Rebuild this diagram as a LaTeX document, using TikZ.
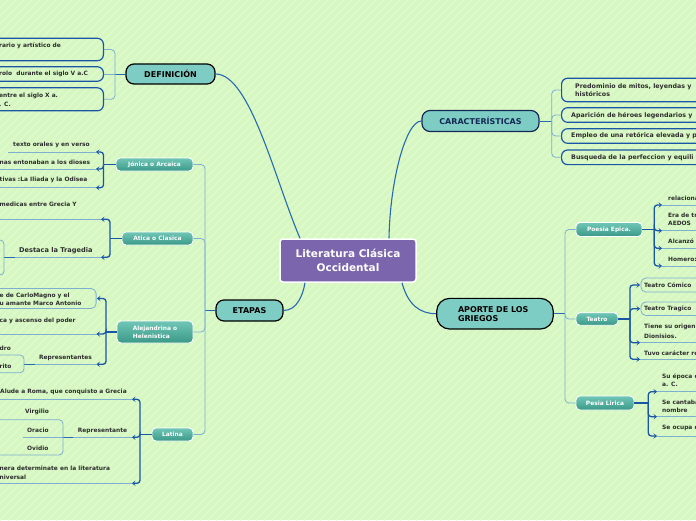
\documentclass[tikz,border=0pt]{standalone}
\usepackage{fontspec}
\setmainfont{DejaVu Sans}
\usetikzlibrary{arrows.meta}
\definecolor{bg}{RGB}{214,247,194}
\definecolor{stripe}{RGB}{221,250,203}
\definecolor{lb}{RGB}{125,175,208}
\definecolor{db}{RGB}{26,86,166}
\definecolor{curve}{RGB}{40,105,175}
\definecolor{topicfill}{RGB}{126,205,196}
\definecolor{purp}{RGB}{123,101,172}
\definecolor{stagetop}{RGB}{112,198,182}
\definecolor{stagebot}{RGB}{58,153,136}
\definecolor{tx}{RGB}{45,45,45}
\definecolor{navy}{RGB}{22,40,85}
\tikzset{
  main/.style={draw=curve, line width=1.1pt},
  mid/.style={draw=curve, line width=1pt},
  lbr/.style={draw=lb, line width=0.8pt, rounded corners=4pt},
  dbr/.style={draw=db, line width=1.3pt, rounded corners=3pt},
  arr/.style={-{Stealth[length=3.6pt,width=5.5pt,inset=1.8pt]}},
  ul/.style={draw=lb, line width=0.8pt},
  txt/.style={font=\fontsize{5.9}{8.3}\selectfont\bfseries, text=tx, inner sep=0pt, align=left, anchor=west},
  ctxt/.style={txt, font=\fontsize{6.3}{8.3}\selectfont\bfseries},
  topic/.style={draw=black, line width=1.2pt, fill=topicfill, rounded corners=8pt, font=\fontsize{8}{9}\selectfont\bfseries, text=black, inner sep=0pt},
  stage/.style={draw=white, line width=0.9pt, rounded corners=4pt, top color=stagetop, bottom color=stagebot, text=white, font=\fontsize{5.9}{8.4}\selectfont\bfseries, inner sep=0pt, align=left},
  dbox/.style={draw=db, line width=1.2pt, rounded corners=6pt, inner sep=0pt},
  lbox/.style={draw=lb, line width=0.8pt, rounded corners=5pt, inner sep=0pt},
  central/.style={draw=white, line width=1.5pt, fill=purp, rounded corners=3pt, text=white, font=\fontsize{10.5}{14}\selectfont\bfseries, align=center, inner sep=0pt}
}
\begin{document}
\begin{tikzpicture}[x=1pt,y=-1pt]
\useasboundingbox (0,0) rectangle (696,520);
\begin{scope}
\clip (0,0) rectangle (696,520);
\fill[bg] (0,0) rectangle (696,520);
\foreach \i in {-520,-512,...,700} \draw[stripe, line width=2pt] (\i,520) -- (\i+520,0);

% central and topics
\node[central, minimum width=136, minimum height=43] (root) at (348,260.5) {Literatura Clásica\\Occidental};
\node[topic, minimum width=89, minimum height=20] (def) at (170.5,74) {DEFINICIÓN};
\node[topic, minimum width=67, minimum height=21] (eta) at (249.5,310.5) {ETAPAS};
\node[topic, draw=navy, text=navy, minimum width=117, minimum height=21] (car) at (480.5,121) {CARACTERÍSTICAS};
\node[topic, rounded corners=13pt, minimum width=116.6, minimum height=30.7, text width=74, align=left] (apo) at (495,313.7) {APORTE DE LOS\\GRIEGOS};

\draw[main] (def.east) .. controls (250,74) and (275,180) .. ([xshift=-48]root.north);
\draw[main] (eta.east) .. controls (297,310.5) and (303,295) .. ([xshift=-43]root.south);
\draw[main] (car.west) .. controls (406,121) and (390,180) .. ([xshift=41]root.north);
\draw[main] ([xshift=54]root.south) .. controls (408,305) and (420,313.7) .. (apo.west);

% DEFINICION
\node[dbox, minimum width=134, minimum height=22.5, anchor=east] (d1b) at (104,49.5) {};
\node[txt] (d1) at (-1,45.3) {rario y artístico de};
\node[dbox, minimum width=134, minimum height=14.5, anchor=east] (d2b) at (104,74) {};
\node[txt] (d2) at (-1,74) {rolo\ \ durante el siglo V a.C};
\node[dbox, minimum width=134, minimum height=23, anchor=east] (d3b) at (104,99.3) {};
\node[txt] (d3) at (-1,99.8) {entre el siglo X a.\\. C.};
\coordinate (dj) at (115,74);
\draw[mid] (def.west) -- (dj);
\draw[lbr] (dj) |- (d1b.east);
\draw[lbr] (dj) -- (d2b.east);
\draw[lbr] (dj) |- (d3b.east);

% ETAPAS
\node[stage, minimum width=77, minimum height=13] (jon) at (154.5,164.5) {Jónica o Arcaica};
\node[stage, minimum width=71, minimum height=13] (ati) at (157.5,238.5) {Atica o Clasica};
\node[stage, minimum width=76, minimum height=22] (ale) at (155,332) {Alejandrina o\\Helenistica};
\node[stage, minimum width=41, minimum height=13] (lat) at (172.5,434.5) {Latina};
\coordinate (ej) at (205,310.5);
\draw[mid] (eta.west) -- (ej);
\draw[lbr] (ej) |- (jon.east);
\draw[lbr] (ej) |- (ati.east);
\draw[lbr] (ej) |- (ale.east);
\draw[lbr] (ej) |- (lat.east);

% Jonica
\coordinate (jj) at (103.5,164.5);
\coordinate (j1e) at (96,152);
\coordinate (j2e) at (96,169);
\coordinate (j3e) at (96,187.7);
\coordinate (j1s) at (8,152);
\coordinate (j2s) at (-2,169);
\coordinate (j3s) at (-2,187.7);
\draw[dbr] (jon.west) -- (jj);
\draw[dbr,arr] (jj) |- (j1e);
\draw[dbr,arr] (jj) |- (j2e);
\draw[dbr,arr] (jj) |- (j3e);
\draw[ul] (j1e) -- (j1s);
\draw[ul] (j2e) -- (j2s);
\draw[ul] (j3e) -- (j3s);
\node[txt] (j1) at (13,145) {texto orales y en verso};
\node[txt] (j2) at (-0.5,162) {nas entonaban a los dioses};
\node[txt] (j3) at (-0.5,180) {tivas :La Iliada y la Odisea};

% Atica
\coordinate (aj) at (110,238.5);
\coordinate (a1e) at (101,219.3);
\coordinate (a2e) at (101,257.3);
\coordinate (a1s) at (-2,219.3);
\coordinate (a2s) at (15,257.3);
\coordinate (tj) at (4,257.3);
\coordinate (tt) at (-2,240);
\coordinate (tb) at (-2,275);
\draw[dbr] (ati.west) -- (aj);
\draw[dbr,arr] (aj) |- (a1e);
\draw[dbr,arr] (aj) |- (a2e);
\draw[ul] (a1e) -- (a1s);
\draw[ul] (a2e) -- (a2s);
\draw[mid] (a2s) -- (tj);
\draw[lbr] (tj) |- (tt);
\draw[lbr] (tj) |- (tb);
\node[txt] (a1) at (-0.5,204) {medicas entre Grecia Y};
\node[txt, font=\fontsize{6.6}{8}\selectfont\bfseries] (a2) at (19,251) {Destaca la Tragedia};

% Alejandrina
\coordinate (lj) at (106,332);
\coordinate (l1e) at (97,298.5);
\coordinate (l2e) at (96.5,334);
\coordinate (l3e) at (96.5,364.3);
\coordinate (l2s) at (-2,334);
\coordinate (l3s) at (35,364.3);
\coordinate (rj) at (24,364.3);
\coordinate (rt) at (-2,355);
\coordinate (rb) at (-2,372.7);
\node[lbox, minimum width=110, minimum height=20, anchor=east] (l1b) at (96.5,298.5) {};
\draw[dbr] (ale.west) -- (lj);
\draw[dbr,arr] (lj) |- (l1e);
\draw[dbr,arr] (lj) |- (l2e);
\draw[dbr,arr] (lj) |- (l3e);
\draw[ul] (l2e) -- (l2s);
\draw[ul] (l3e) -- (l3s);
\draw[mid] (l3s) -- (rj);
\draw[lbr] (rj) |- (rt);
\draw[lbr] (rj) |- (rb);
\node[txt, font=\fontsize{5.9}{7.8}\selectfont\bfseries] (l1) at (-0.5,299) {e de CarloMagno y el\\u amante Marco Antonio};
\node[txt] (l2) at (-0.5,320.7) {ca y ascenso del poder};
\node[txt] (l3) at (39,357.5) {Representantes};
\node[txt] (l3a) at (-0.5,348.3) {dro};
\node[txt] (l3b) at (-0.5,366.5) {rito};

% Latina
\coordinate (tj2) at (140,434.5);
\coordinate (t1e) at (132,399.3);
\coordinate (t2e) at (132,437.3);
\coordinate (t3e) at (132,483.3);
\coordinate (t1s) at (-2,399.3);
\coordinate (t2s) at (73,437.3);
\coordinate (t3s) at (-2,483.3);
\coordinate (vj) at (63,437.3);
\coordinate (vt) at (-2,419.7);
\coordinate (vm) at (23,437.3);
\coordinate (vb) at (-2,455);
\draw[dbr] (lat.west) -- (tj2);
\draw[dbr,arr] (tj2) |- (t1e);
\draw[dbr,arr] (tj2) |- (t2e);
\draw[dbr,arr] (tj2) |- (t3e);
\draw[ul] (t1e) -- (t1s);
\draw[ul] (t2e) -- (t2s);
\draw[ul] (t3e) -- (t3s);
\draw[mid] (t2s) -- (vj);
\draw[lbr] (vj) |- (vt);
\draw[lbr] (vj) -- (vm);
\draw[lbr] (vj) |- (vb);
\node[txt] (t1) at (0,391.7) {Alude a Roma, que conquisto a Grecia};
\node[txt] (t2) at (77.7,430.7) {Representante};
\node[txt] (v1) at (25,412.3) {Virgilio};
\node[txt] (v2) at (27,430.3) {Oracio};
\node[txt] (v3) at (27,448.7) {Ovidio};
\node[txt] (t3) at (-0.5,472.8) {nera determinate en la literatura\\niversal};

% CARACTERISTICAS
\node[dbox, minimum width=160, minimum height=23.5, anchor=west] (c1b) at (561,90) {};
\node[dbox, minimum width=160, minimum height=14.6, anchor=west] (c2b) at (561,115) {};
\node[dbox, minimum width=160, minimum height=14.6, anchor=west] (c3b) at (561,136) {};
\node[dbox, minimum width=160, minimum height=14.6, anchor=west] (c4b) at (561,157.3) {};
\coordinate (cj) at (551.7,121);
\draw[mid] (car.east) -- (cj);
\draw[lbr] (cj) |- (c1b.west);
\draw[lbr] (cj) |- (c2b.west);
\draw[lbr] (cj) |- (c3b.west);
\draw[lbr] (cj) |- (c4b.west);
\node[ctxt] (c1) at (575,90.2) {Predominio de mitos, leyendas y\\históricos};
\node[ctxt] (c2) at (571,115.7) {Aparición de héroes legendarios y};
\node[ctxt] (c3) at (571,136) {Empleo de una retórica elevada y p};
\node[ctxt] (c4) at (571,157.7) {Busqueda de la perfeccion y equili};

% APORTE
\node[stage, minimum width=66, minimum height=14] (epi) at (609,229.5) {Poesia Epica.};
\node[stage, minimum width=42, minimum height=12.5] (tea) at (597,319) {Teatro};
\node[stage, minimum width=58, minimum height=14] (lir) at (605,403) {Pesia Lirica};
\coordinate (pj0) at (565,313.7);
\draw[mid] (apo.east) -- (pj0);
\draw[lbr] (pj0) |- (epi.west);
\draw[lbr] (pj0) |- (tea.west);
\draw[lbr] (pj0) |- (lir.west);

% Poesia epica
\coordinate (ej2) at (654.3,229.5);
\coordinate (e1e) at (662,205);
\coordinate (e2e) at (662,230.7);
\coordinate (e3e) at (662,248.3);
\coordinate (e4e) at (662,266);
\coordinate (e1s) at (700,205);
\coordinate (e2s) at (700,230.7);
\coordinate (e3s) at (700,248.3);
\coordinate (e4s) at (700,266);
\draw[dbr] (epi.east) -- (ej2);
\draw[dbr,arr] (ej2) |- (e1e);
\draw[dbr,arr] (ej2) |- (e2e);
\draw[dbr,arr] (ej2) |- (e3e);
\draw[dbr,arr] (ej2) |- (e4e);
\draw[ul] (e1e) -- (e1s);
\draw[ul] (e2e) -- (e2s);
\draw[ul] (e3e) -- (e3s);
\draw[ul] (e4e) -- (e4s);
\node[txt] (e1) at (668,198) {relaciona};
\node[txt, font=\fontsize{5.9}{7.8}\selectfont\bfseries] (e2) at (668,219.5) {Era de tr\\AEDOS};
\node[txt] (e3) at (668,241) {Alcanzó};
\node[txt] (e4) at (668,259.3) {Homero:};

% Teatro
\coordinate (tj3) at (630,319);
\coordinate (f1e) at (640,285);
\coordinate (f2e) at (640,308.7);
\coordinate (f3e) at (640,342.7);
\coordinate (f4e) at (640,359.3);
\coordinate (f3s) at (700,342.7);
\coordinate (f4s) at (700,359.3);
\node[lbox, minimum width=70, minimum height=14, anchor=west] (f1b) at (640.5,285) {};
\node[lbox, minimum width=70, minimum height=13.5, anchor=west] (f2b) at (640.5,308.7) {};
\draw[dbr] (tea.east) -- (tj3);
\draw[dbr,arr] (tj3) |- (f1e);
\draw[dbr,arr] (tj3) |- (f2e);
\draw[dbr,arr] (tj3) |- (f3e);
\draw[dbr,arr] (tj3) |- (f4e);
\draw[ul] (f3e) -- (f3s);
\draw[ul] (f4e) -- (f4s);
\node[txt] (f1) at (644,285) {Teatro Cómico};
\node[txt] (f2) at (644,308.7) {Teatro Tragico};
\node[txt, font=\fontsize{5.9}{9.3}\selectfont\bfseries] (f3) at (644,331.3) {Tiene su origen\\Dionisios.};
\node[txt] (f4) at (644,353.3) {Tuvo carácter re};

% Pesia lirica
\coordinate (pj3) at (648.3,403);
\coordinate (g1e) at (657,391.7);
\coordinate (g2e) at (657,416.7);
\coordinate (g3e) at (657,436);
\coordinate (g1s) at (700,391.7);
\coordinate (g2s) at (700,416.7);
\coordinate (g3s) at (700,436);
\draw[dbr] (lir.east) -- (pj3);
\draw[dbr,arr] (pj3) |- (g1e);
\draw[dbr,arr] (pj3) |- (g2e);
\draw[dbr,arr] (pj3) |- (g3e);
\draw[ul] (g1e) -- (g1s);
\draw[ul] (g2e) -- (g2s);
\draw[ul] (g3e) -- (g3s);
\node[txt, font=\fontsize{5.9}{7.8}\selectfont\bfseries] (g1) at (662,380.5) {Su época c\\a. C.};
\node[txt, font=\fontsize{5.9}{8.4}\selectfont\bfseries] (g2) at (662,406.5) {Se cantaba\\nombre};
\node[txt] (g3) at (662,428.3) {Se ocupa d};
\end{scope}
\end{tikzpicture}
\end{document}
